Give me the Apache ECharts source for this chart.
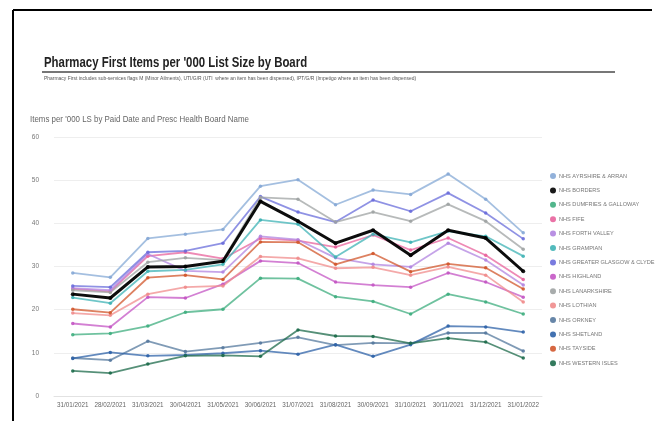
<!DOCTYPE html>
<html><head><meta charset="utf-8">
<script src="https://cdn.jsdelivr.net/npm/echarts@6/dist/echarts.min.js"></script>
<style>html,body{margin:0;padding:0;background:#fff}#c{width:656px;height:421px}</style>
</head><body><div id="c"></div>
<script>
const categories = ['31/01/2021','28/02/2021','31/03/2021','30/04/2021','31/05/2021','30/06/2021','31/07/2021','31/08/2021','30/09/2021','31/10/2021','30/11/2021','31/12/2021','31/01/2022'];
const yTicks = [0,10,20,30,40,50,60];
const boards = ['NHS AYRSHIRE & ARRAN','NHS BORDERS','NHS DUMFRIES & GALLOWAY','NHS FIFE','NHS FORTH VALLEY','NHS GRAMPIAN','NHS GREATER GLASGOW & CLYDE','NHS HIGHLAND','NHS LANARKSHIRE','NHS LOTHIAN','NHS ORKNEY','NHS SHETLAND','NHS TAYSIDE','NHS WESTERN ISLES'];
const colors = ['#86a9d6','#000000','#3fae7f','#e8639c','#b184e0','#3fb3b5','#6a6ddb','#c456c4','#9fa3a3','#f08c8c','#56799e','#2f63a8','#d2572c','#1d6b4b'];
const ayrshire   = [28.5,27.5,36.5,37.5,38.6,48.6,50.1,44.3,47.7,46.7,51.4,45.6,37.8];
const borders    = [23.6,22.7,29.9,30.0,31.2,45.1,40.5,35.4,38.4,32.6,38.4,36.6,28.9];
const dumfries   = [14.2,14.5,16.2,19.4,20.1,27.3,27.2,23.0,21.9,19.0,23.6,21.8,19.0];
const fife       = [24.8,24.2,32.4,33.3,31.8,36.5,36.0,34.5,37.3,33.8,36.6,32.6,27.0];
const forth      = [25.0,24.5,32.9,29.0,28.7,37.0,36.2,32.0,30.5,29.9,35.4,31.5,25.7];
const grampian   = [22.8,21.5,28.9,29.2,30.5,40.8,39.8,32.2,37.5,35.6,38.2,37.0,32.4];
const glasgow    = [25.5,25.2,33.3,33.6,35.4,46.2,42.6,40.3,45.4,42.8,47.0,42.4,36.4];
const highland   = [16.8,16.0,22.9,22.7,25.9,31.3,30.8,26.4,25.7,25.2,28.5,26.4,22.9];
const lanarkshire= [24.5,24.0,31.0,32.0,31.5,46.0,45.6,40.3,42.6,40.5,44.4,40.5,34.0];
const lothian    = [19.2,18.7,23.6,25.2,25.5,32.3,31.9,29.6,29.8,28.0,29.9,28.0,21.8];
const orkney     = [8.8,8.3,12.7,10.3,11.2,12.3,13.6,11.8,12.3,12.2,14.6,14.6,10.4];
const shetland   = [8.7,10.1,9.3,9.5,9.9,10.5,9.7,11.9,9.2,11.9,16.2,16.0,14.8];
const tayside    = [20.1,19.3,27.4,28.0,27.0,35.7,35.6,30.5,33.0,28.8,30.6,29.7,24.8];
const westernIsles=[5.8,5.3,7.4,9.3,9.4,9.2,15.3,13.9,13.8,12.2,13.4,12.5,8.8];
const seriesData = [ayrshire,borders,dumfries,fife,forth,grampian,glasgow,highland,lanarkshire,lothian,orkney,shetland,tayside,westernIsles];

const titleText = "Pharmacy First Items per '000 List Size by Board";
const subText = "Pharmacy First includes sub-services flags M (Minor Ailments), UTI/G/R (UTI  where an item has been dispensed), IPT/G/R (Impetigo where an item has been dispensed)";
const axisTitle = "Items per '000 LS by Paid Date and Presc Health Board Name";

const FN = '"Liberation Sans",Arial,sans-serif';
const chart = echarts.init(document.getElementById('c'));
chart.setOption({
  animation:false,
  color: colors,
  graphic:[
    {type:'line',shape:{x1:13,y1:10,x2:652,y2:10},style:{stroke:'#000',lineWidth:2}},
    {type:'line',shape:{x1:13,y1:10,x2:13,y2:421},style:{stroke:'#000',lineWidth:2}},
    {type:'line',shape:{x1:42,y1:72,x2:615,y2:72},style:{stroke:'#777',lineWidth:2}},
    {type:'text',x:44,y:55,scaleX:0.76,scaleY:1,
     style:{text:titleText,fontFamily:FN,fontSize:15,fontWeight:'bold',fill:'#222'}},
    {type:'text',x:44,y:76,scaleX:0.99,
     style:{text:subText,fontFamily:FN,fontSize:5,fill:'#555'}},
    {type:'text',x:30,y:115,scaleX:0.88,
     style:{text:axisTitle,fontFamily:FN,fontSize:9,fill:'#666'}}
  ],
  legend:{orient:'vertical', left:545, top:168, itemGap:8.4, itemWidth:6, itemHeight:6, icon:'circle',
    textStyle:{fontFamily:FN,fontSize:5.6,color:'#777',padding:[0,0,0,-2]}, data:boards},
  grid:{left:54,right:114,top:137,bottom:25},
  xAxis:{type:'category',data:categories,boundaryGap:true,
    axisLine:{show:true,lineStyle:{color:'#e2e2e2'}},axisTick:{show:false},
    axisLabel:{fontFamily:FN,fontSize:6.3,color:'#666',margin:6,interval:0}},
  yAxis:{type:'value',min:0,max:60,interval:10,
    axisLine:{show:false},axisTick:{show:false},
    splitLine:{lineStyle:{color:'#eeeeee'}},
    axisLabel:{fontFamily:FN,fontSize:6.5,color:'#777',margin:15,
      formatter:v=>yTicks.includes(v)?String(v):''}},
  series: boards.map((b,i)=>({
    name:b,type:'line',data:seriesData[i],symbol:'circle',symbolSize:i===1?4:3.5,
    lineStyle:{width:i===1?3:1.8,opacity:i===1?0.95:0.75},
    itemStyle:{opacity:0.9},
    z: i===1?5:2
  }))
});
</script></body></html>
